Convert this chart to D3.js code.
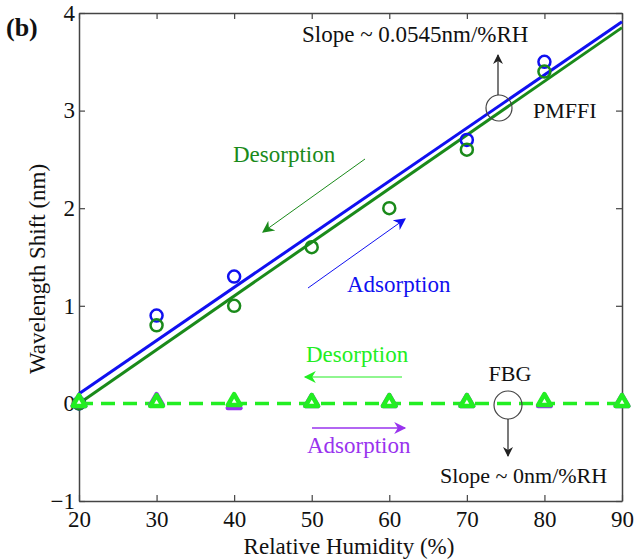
<!DOCTYPE html>
<html>
<head>
<meta charset="utf-8">
<script src="https://cdn.jsdelivr.net/npm/d3@7"></script>
<style>
  html, body { margin: 0; padding: 0; background: #fff; }
  svg { display: block; }
  text { font-family: "Liberation Serif", "Times New Roman", serif; }
</style>
</head>
<body>
<svg id="chart" width="635" height="560"></svg>
<script>
// Relative humidity levels (%)
const humidity = [20, 30, 40, 50, 60, 70, 80, 90];

// PMFFI wavelength shift (nm), measured points
const pmAdsorbX = [20, 30, 40, 70, 80];
const pmAdsorbY = [0.0, 0.9, 1.3, 2.7, 3.5];
const pmDesorbX = [20, 30, 40, 50, 60, 70, 80];
const pmDesorbY = [0.0, 0.8, 1.0, 1.6, 2.0, 2.6, 3.4];

// Linear fits, endpoints at 20 % and 90 % RH
const fitX = [20, 90];
const fitAdsorbY = [0.10, 3.91];
const fitDesorbY = [0.00, 3.85];

// FBG wavelength shift (nm)
const fbgAdsorbY = [0.0, 0.01, -0.02, 0.0, 0.0, 0.0, 0.0, 0.0];
const fbgDesorbY = [0.0, 0.0, 0.01, 0.0, 0.0, 0.0, 0.01, 0.0];

// Axis ticks
const xTicks = [20, 30, 40, 50, 60, 70, 80, 90];
const yTicks = [-1, 0, 1, 2, 3, 4];

const colBlue = "#1010f0";
const colDarkGreen = "#1a8a1a";
const colLime = "#22ee22";
const colPurple = "#9933ee";
const serif = "'Liberation Serif', 'Times New Roman', serif";

const svg = d3.select("#chart");
const m = { left: 79, right: 622, top: 13, bottom: 501 };
const x = d3.scaleLinear().domain([20, 90]).range([m.left, m.right]);
const y = d3.scaleLinear().domain([-1, 4]).range([m.bottom, m.top]);

// arrow markers
const defs = svg.append("defs");
function marker(id, color, w, h) {
  defs.append("marker").attr("id", id)
    .attr("viewBox", "0 0 10 10").attr("refX", 9).attr("refY", 5)
    .attr("markerWidth", w).attr("markerHeight", h).attr("markerUnits", "userSpaceOnUse")
    .attr("orient", "auto")
    .append("path").attr("d", "M0,0 L10,5 L0,10 L3,5 Z").attr("fill", color);
}
marker("mBlack", "#222", 10, 10);
marker("mDG", colDarkGreen, 14, 12);
marker("mBlue", colBlue, 14, 12);
marker("mLime", colLime, 14, 12);
marker("mPurple", colPurple, 14, 12);

// axes with inward ticks on all four sides
const axisColor = "#444";
const fmt = d3.format("d");
function styleAxis(g) {
  g.attr("font-family", serif);
  g.select(".domain").attr("stroke", axisColor).attr("stroke-width", 1.5);
  g.selectAll(".tick line").attr("stroke", axisColor).attr("stroke-width", 1.2);
  g.selectAll("text").attr("fill", "#111").style("font-size", "23px")
    .style("font-family", serif);
}
svg.append("g").attr("transform", `translate(0,${m.bottom})`)
  .call(d3.axisBottom(x).tickValues(xTicks).tickFormat(fmt).tickSizeInner(-6).tickSizeOuter(0).tickPadding(10))
  .call(styleAxis);
svg.append("g").attr("transform", `translate(0,${m.top})`)
  .call(d3.axisTop(x).tickValues(xTicks).tickSizeInner(-6).tickSizeOuter(0).tickFormat(""))
  .call(styleAxis);
svg.append("g").attr("transform", `translate(${m.left},0)`)
  .call(d3.axisLeft(y).tickValues(yTicks).tickFormat(fmt).tickSizeInner(-6).tickSizeOuter(0).tickPadding(4))
  .call(styleAxis);
svg.append("g").attr("transform", `translate(${m.right},0)`)
  .call(d3.axisRight(y).tickValues(yTicks).tickSizeInner(-6).tickSizeOuter(0).tickFormat(""))
  .call(styleAxis);

// axis titles
svg.append("text").attr("x", 349).attr("y", 554)
  .attr("text-anchor", "middle").style("font-size", "23px").style("font-family", serif)
  .attr("fill", "#111")
  .text("Relative Humidity (%)");
svg.append("text").attr("transform", `translate(45,269) rotate(-90)`)
  .attr("text-anchor", "middle").style("font-size", "23px").style("font-family", serif)
  .attr("fill", "#111")
  .text("Wavelength Shift (nm)");
svg.append("text").attr("x", 6).attr("y", 36)
  .style("font-size", "26px").style("font-weight", "bold").style("font-family", serif)
  .attr("fill", "#111")
  .text("(b)");

// fitted lines
const line = d3.line().x(d => x(d[0])).y(d => y(d[1]));
svg.append("path").datum(d3.zip(fitX, fitDesorbY)).attr("d", line)
  .attr("fill", "none").attr("stroke", colDarkGreen).attr("stroke-width", 3);
svg.append("path").datum(d3.zip(fitX, fitAdsorbY)).attr("d", line)
  .attr("fill", "none").attr("stroke", colBlue).attr("stroke-width", 3);

// PMFFI markers
svg.append("g").selectAll("circle").data(d3.zip(pmAdsorbX, pmAdsorbY)).join("circle")
  .attr("cx", d => x(d[0])).attr("cy", d => y(d[1])).attr("r", 6)
  .attr("fill", "none").attr("stroke", colBlue).attr("stroke-width", 2.5);
svg.append("g").selectAll("circle").data(d3.zip(pmDesorbX, pmDesorbY)).join("circle")
  .attr("cx", d => x(d[0])).attr("cy", d => y(d[1])).attr("r", 6)
  .attr("fill", "none").attr("stroke", colDarkGreen).attr("stroke-width", 2.5);

// FBG dashed line and triangles
svg.append("path").datum(d3.zip(humidity, fbgDesorbY.map(() => 0))).attr("d", line)
  .attr("fill", "none").attr("stroke", colLime).attr("stroke-width", 3.5)
  .attr("stroke-dasharray", "14,8");
const tri = d3.symbol(d3.symbolTriangle, 70);
svg.append("g").selectAll("path").data(d3.zip(humidity, fbgAdsorbY)).join("path")
  .attr("d", tri).attr("transform", d => `translate(${x(d[0])},${y(d[1]) - 1})`)
  .attr("fill", "#fff").attr("stroke", colPurple).attr("stroke-width", 4.5)
  .attr("stroke-linejoin", "round");
svg.append("g").selectAll("path").data(d3.zip(humidity, fbgDesorbY)).join("path")
  .attr("d", tri).attr("transform", d => `translate(${x(d[0])},${y(d[1]) - 1})`)
  .attr("fill", "#fff").attr("stroke", colLime).attr("stroke-width", 4.5)
  .attr("stroke-linejoin", "round");

// annotations
function label(t, px, py, color, size, anchor) {
  svg.append("text").attr("x", px).attr("y", py).attr("fill", color)
    .attr("text-anchor", anchor || "start").style("font-size", size + "px")
    .style("font-family", serif).text(t);
}
function arrow(x1, y1, x2, y2, color, mk, w) {
  svg.append("line").attr("x1", x1).attr("y1", y1).attr("x2", x2).attr("y2", y2)
    .attr("stroke", color).attr("stroke-width", w).attr("marker-end", `url(#${mk})`);
}

label("Desorption", 233, 162, colDarkGreen, 23);
arrow(365, 159, 263, 232, colDarkGreen, "mDG", 1);
label("Adsorption", 347, 292, colBlue, 23);
arrow(308, 288, 405, 219, colBlue, "mBlue", 1);

label("Desorption", 306, 362, colLime, 23);
arrow(402, 377, 305, 377, colLime, "mLime", 1.2);
arrow(312, 428, 405, 428, colPurple, "mPurple", 1.5);
label("Adsorption", 307, 453, colPurple, 23);

// PMFFI callout
svg.append("ellipse").attr("cx", 499).attr("cy", 108).attr("rx", 13).attr("ry", 13)
  .attr("fill", "none").attr("stroke", "#444").attr("stroke-width", 1.2);
arrow(498, 95, 498, 55, "#222", "mBlack", 1.2);
label("Slope ~ 0.0545nm/%RH", 302, 42, "#111", 23);
label("PMFFI", 533, 118, "#111", 22);

// FBG callout
svg.append("ellipse").attr("cx", 508).attr("cy", 405).attr("rx", 14).attr("ry", 14)
  .attr("fill", "none").attr("stroke", "#444").attr("stroke-width", 1.2);
arrow(508, 419, 508, 456, "#222", "mBlack", 1.2);
label("FBG", 510, 381, "#111", 22, "middle");
label("Slope ~ 0nm/%RH", 440, 483, "#111", 22);
</script>
</body>
</html>
